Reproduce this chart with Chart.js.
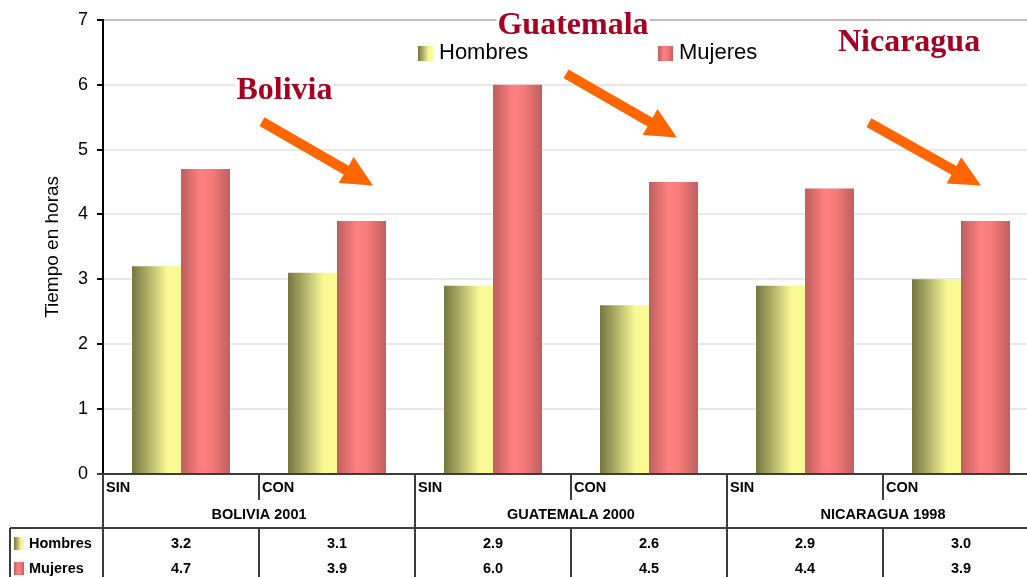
<!DOCTYPE html>
<html>
<head>
<meta charset="utf-8">
<title>Tiempo en horas</title>
<script src="https://cdn.jsdelivr.net/npm/chart.js@4.4.0/dist/chart.umd.min.js"></script>
<style>
  html, body { margin: 0; padding: 0; background: #fff; overflow: hidden; }
  #wrap { width: 1027px; height: 577px; overflow: hidden; }
</style>
</head>
<body>
<div id="wrap"><canvas id="chart" width="1040" height="577"></canvas></div>
<script>
// Tiempo en horas, sin / con (por pais y anio de encuesta)
var periods = ['SIN', 'CON', 'SIN', 'CON', 'SIN', 'CON'];
var countries = ['BOLIVIA 2001', 'GUATEMALA 2000', 'NICARAGUA 1998'];
var hombres = [3.2, 3.1, 2.9, 2.6, 2.9, 3.0];
var mujeres = [4.7, 3.9, 6.0, 4.5, 4.4, 3.9];
var yTicks = [0, 1, 2, 3, 4, 5, 6, 7];

var CAT_PCT = 0.628;
var FONT = '"Liberation Sans", Arial, sans-serif';
var SERIF = '"Liberation Serif", "Times New Roman", serif';

var hombresStops = [[0, '#76763f'], [0.35, '#b3b36a'], [0.72, '#f9f995'], [1, '#f9f995']];
var mujeresStops = [[0, '#be5e5e'], [0.4, '#ff8080'], [0.62, '#f77b7b'], [1, '#bf5f5f']];

function makeGradient(ctx, x, w, stops) {
  var g = ctx.createLinearGradient(x, 0, x + w, 0);
  stops.forEach(function(s) { g.addColorStop(s[0], s[1]); });
  return g;
}

// horizontal shading for each bar, computed from the x scale
function barFill(stops, side) {
  return function(context) {
    var chart = context.chart;
    var xs = chart.scales.x;
    var plain = stops[stops.length - 1][1];
    if (context.type !== 'data' || !xs) return plain;
    var catW = (xs.right - xs.left) / periods.length;
    var barW = catW * CAT_PCT / 2;
    var left = xs.getPixelForValue(context.dataIndex) + side * barW;
    if (!isFinite(left) || !isFinite(barW) || barW <= 0) return plain;
    return makeGradient(chart.ctx, left, barW, stops);
  };
}

// arrows + country names, positions in (category, hours)
var callouts = [
  { text: 'Bolivia',   at: [1.163, 5.785], from: [1.019, 5.431], to: [1.731, 4.446] },
  { text: 'Guatemala', at: [3.013, 6.785], from: [2.968, 6.169], to: [3.679, 5.185] },
  { text: 'Nicaragua', at: [5.167, 6.523], from: [4.910, 5.415], to: [5.628, 4.446] }
];

var calloutPlugin = {
  id: 'callouts',
  afterDatasetsDraw: function(chart) {
    var c = chart.ctx, a = chart.chartArea, ys = chart.scales.y;
    var catW = (a.right - a.left) / periods.length;
    function px(p) { return [a.left + p[0] * catW, ys.getPixelForValue(p[1])]; }
    c.save();
    callouts.forEach(function(co) {
      // text with white box behind it
      var t = px(co.at);
      c.font = 'bold 32px ' + SERIF;
      var tw = c.measureText(co.text).width;
      c.fillStyle = '#fff';
      c.fillRect(t[0] - tw / 2 - 1, t[1] - 25, tw + 2, 32);
      c.fillStyle = '#a50021';
      c.textAlign = 'center';
      c.textBaseline = 'alphabetic';
      c.fillText(co.text, t[0], t[1]);

      // arrow
      var p0 = px(co.from), p1 = px(co.to);
      var dx = p1[0] - p0[0], dy = p1[1] - p0[1];
      var len = Math.sqrt(dx * dx + dy * dy);
      var ux = dx / len, uy = dy / len, nx = -uy, ny = ux;
      var headL = 31, headW = 15, shaft = 5;
      var bx = p1[0] - ux * headL, by = p1[1] - uy * headL;
      c.fillStyle = '#ff6600';
      c.beginPath();
      c.moveTo(p0[0] + nx * shaft, p0[1] + ny * shaft);
      c.lineTo(bx + nx * shaft, by + ny * shaft);
      c.lineTo(bx + nx * headW, by + ny * headW);
      c.lineTo(p1[0], p1[1]);
      c.lineTo(bx - nx * headW, by - ny * headW);
      c.lineTo(bx - nx * shaft, by - ny * shaft);
      c.lineTo(p0[0] - nx * shaft, p0[1] - ny * shaft);
      c.closePath();
      c.fill();
    });
    c.restore();
  }
};

// legend at the top
var legendPlugin = {
  id: 'topLegend',
  afterDatasetsDraw: function(chart) {
    var c = chart.ctx;
    var items = [
      { ds: chart.data.datasets[0], x: 418, stops: hombresStops },
      { ds: chart.data.datasets[1], x: 658, stops: mujeresStops }
    ];
    c.save();
    c.font = '22px ' + FONT;
    c.textBaseline = 'middle';
    c.textAlign = 'left';
    items.forEach(function(it) {
      c.fillStyle = makeGradient(c, it.x, 15, it.stops);
      c.fillRect(it.x, 46, 15, 15);
      c.fillStyle = '#000';
      c.fillText(it.ds.label, it.x + 21, 53);
    });
    c.restore();
  }
};

// data table under the axis
var tablePlugin = {
  id: 'dataTable',
  afterDraw: function(chart) {
    var c = chart.ctx, a = chart.chartArea;
    var n = periods.length, w = (a.right - a.left) / n;
    var y0 = a.bottom, yMid = y0 + 26, yRow = y0 + 54, yEnd = chart.height;
    function line(x1, y1, x2, y2) {
      c.beginPath(); c.moveTo(x1, y1); c.lineTo(x2, y2); c.stroke();
    }
    c.save();
    c.strokeStyle = '#3c3c3c';
    c.lineWidth = 2;
    line(a.left - 6, y0, a.right, y0);
    line(10, yRow, a.right, yRow);
    line(10, yRow, 10, yEnd);
    for (var i = 0; i <= n; i++) {
      var x = Math.round(a.left + i * w);
      if (i % 2 === 0) {
        line(x, y0, x, yEnd);
      } else {
        line(x, y0, x, yMid);
        line(x, yRow, x, yEnd);
      }
    }

    c.fillStyle = '#000';
    c.font = 'bold 14.5px ' + FONT;
    c.textBaseline = 'middle';
    c.textAlign = 'left';
    periods.forEach(function(p, i) {
      c.fillText(p, a.left + i * w + 3, y0 + 14);
    });
    c.textAlign = 'center';
    countries.forEach(function(name, k) {
      c.fillText(name, a.left + (2 * k + 1) * w, y0 + 41);
    });

    var rows = [
      { ds: chart.data.datasets[0], y: y0 + 69, stops: hombresStops },
      { ds: chart.data.datasets[1], y: y0 + 94, stops: mujeresStops }
    ];
    rows.forEach(function(r) {
      c.fillStyle = makeGradient(c, 14, 10, r.stops);
      c.fillRect(14, r.y - 6, 10, 13);
      c.fillStyle = '#000';
      c.textAlign = 'left';
      c.fillText(r.ds.label, 29, r.y + 1);
      c.textAlign = 'center';
      r.ds.data.forEach(function(v, i) {
        c.fillText(v.toFixed(1), a.left + (i + 0.5) * w, r.y + 1);
      });
    });
    c.restore();
  }
};

new Chart(document.getElementById('chart'), {
  type: 'bar',
  data: {
    labels: periods,
    datasets: [
      {
        label: 'Hombres',
        data: hombres,
        backgroundColor: barFill(hombresStops, -1),
        borderWidth: 0
      },
      {
        label: 'Mujeres',
        data: mujeres,
        backgroundColor: barFill(mujeresStops, 0),
        borderWidth: 0
      }
    ]
  },
  options: {
    responsive: false,
    animation: false,
    layout: { padding: { top: 19, bottom: 103, right: 1, left: 0 } },
    datasets: { bar: { categoryPercentage: CAT_PCT, barPercentage: 1 } },
    plugins: {
      legend: { display: false },
      tooltip: { enabled: false }
    },
    scales: {
      x: {
        display: false
      },
      y: {
        min: yTicks[0],
        max: yTicks[yTicks.length - 1],
        afterFit: function(scale) { scale.width = 103; },
        ticks: {
          stepSize: 1,
          color: '#000',
          padding: 9,
          font: { family: FONT, size: 18 }
        },
        grid: {
          color: function(ctx) { return ctx.tick && ctx.tick.value === 7 ? '#bdbdbd' : '#e8e8e8'; },
          lineWidth: 2,
          tickLength: 6,
          tickColor: '#000'
        },
        border: { display: true, color: '#000', width: 2 },
        title: {
          display: true,
          text: 'Tiempo en horas',
          color: '#000',
          padding: { top: 41, bottom: 0 },
          font: { family: FONT, size: 19 }
        }
      }
    }
  },
  plugins: [calloutPlugin, legendPlugin, tablePlugin]
});
</script>
</body>
</html>
